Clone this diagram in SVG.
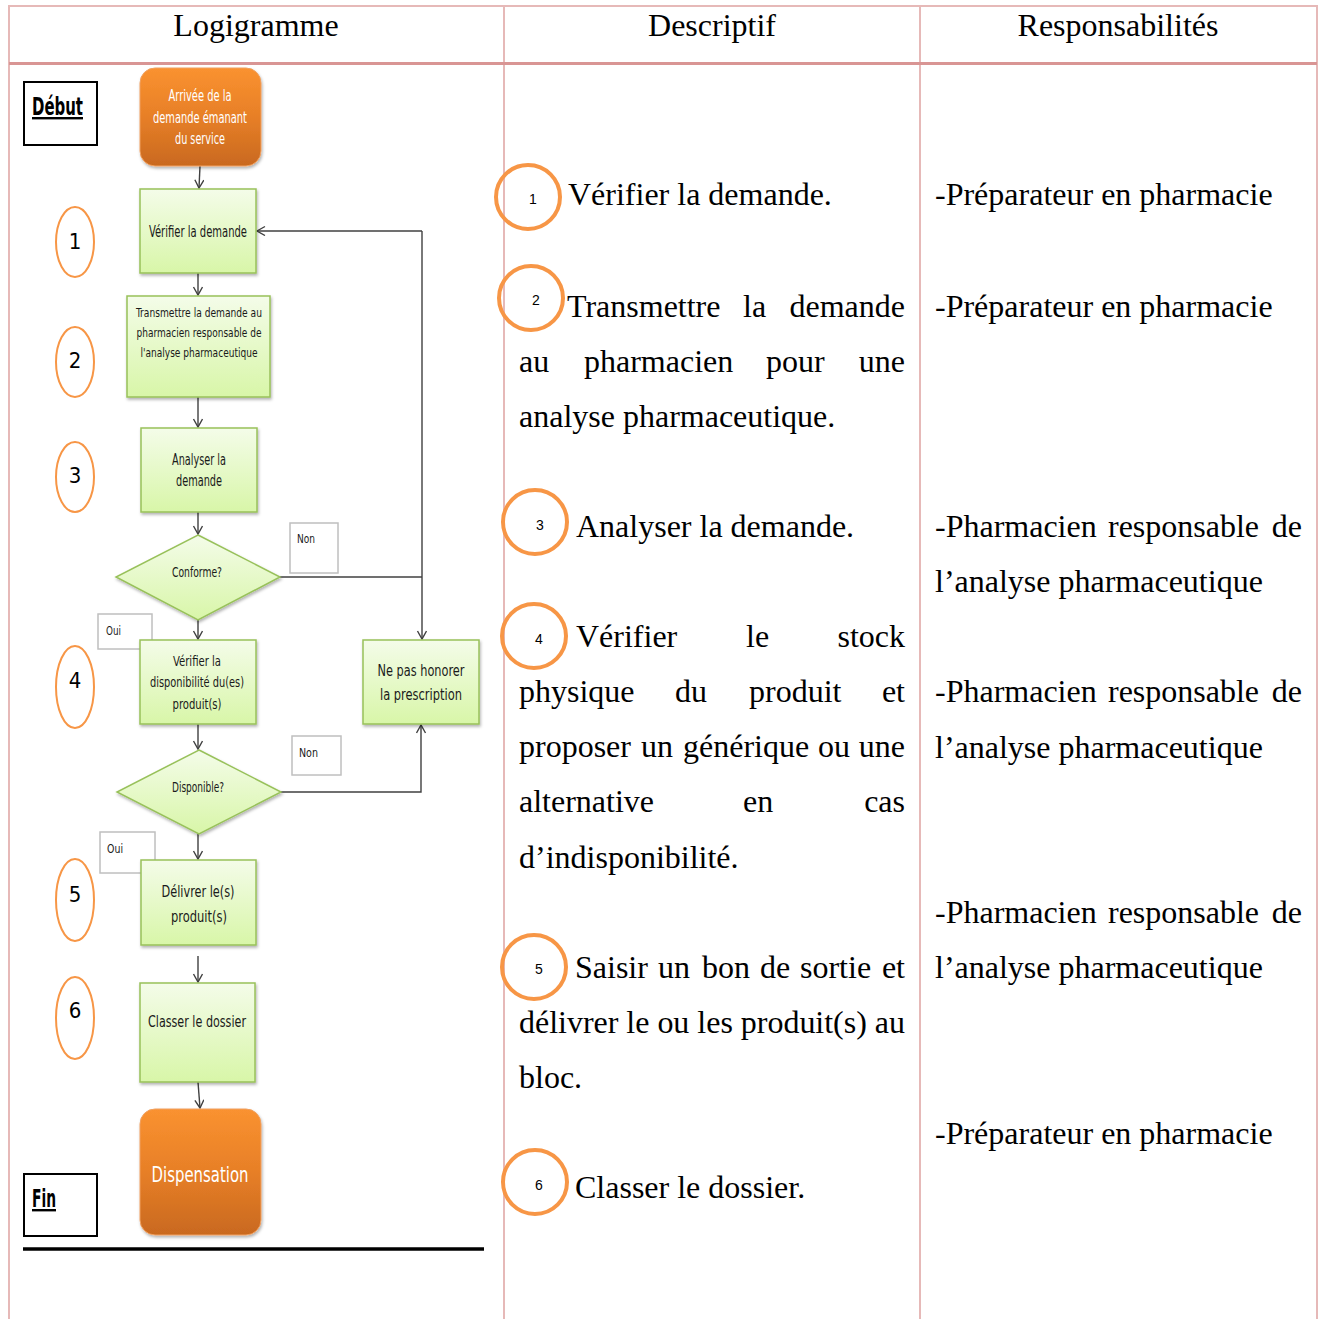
<svg xmlns="http://www.w3.org/2000/svg" width="1325" height="1319" viewBox="0 0 1325 1319">
  <defs>
    <linearGradient id="gOrange" x1="0" y1="0" x2="0" y2="1">
      <stop offset="0" stop-color="#fa9230"/>
      <stop offset="0.5" stop-color="#e77f27"/>
      <stop offset="1" stop-color="#c9691f"/>
    </linearGradient>
    <linearGradient id="gGreen" x1="0" y1="0" x2="0" y2="1">
      <stop offset="0" stop-color="#f4fce9"/>
      <stop offset="1" stop-color="#d8f6a8"/>
    </linearGradient>
    <filter id="shadow" x="-10%" y="-10%" width="130%" height="130%">
      <feDropShadow dx="1" dy="2" stdDeviation="1.5" flood-color="#000" flood-opacity="0.3"/>
    </filter>
    <marker id="arrow" markerUnits="userSpaceOnUse" markerWidth="12" markerHeight="12" refX="9" refY="5" orient="auto">
      <path d="M1,0.5 L9,5 L1,9.5" fill="none" stroke="#404040" stroke-width="1.4"/>
    </marker>
  </defs>
  <style>
    .grid { stroke: #e6b9b8; stroke-width: 2; fill: none; }
    .head { font-family: "Liberation Serif", "Times New Roman", serif; font-size: 32px; fill: #000; text-anchor: middle; }
    .body { font-family: "Liberation Serif", "Times New Roman", serif; font-size: 32px; fill: #000; }
    .end { text-anchor: end; }
    .fc { font-family: "Liberation Sans Narrow", "DejaVu Sans Condensed", "Liberation Sans", sans-serif; fill: #1a1a1a; text-anchor: middle; }
    .fcw { font-family: "Liberation Sans Narrow", "DejaVu Sans Condensed", "Liberation Sans", sans-serif; fill: #ffffff; text-anchor: middle; }
    .lbl { font-family: "Liberation Sans Narrow", "DejaVu Sans Condensed", "Liberation Sans", sans-serif; font-size: 13px; fill: #1a1a1a; }
    .step { fill: url(#gGreen); stroke: #98c15a; stroke-width: 1.5; filter: url(#shadow); }
    .term { fill: url(#gOrange); stroke: #f0a060; stroke-width: 1; filter: url(#shadow); }
    .tag { fill: #fff; stroke: #bfbfbf; stroke-width: 1.5; }
    .num { fill: none; stroke: #f79646; stroke-width: 2; }
    .ring { fill: none; stroke: #f79646; stroke-width: 4; }
    .numtxt { font-family: "Liberation Sans Narrow", "DejaVu Sans Condensed", "Liberation Sans", sans-serif; font-size: 22px; fill: #000; text-anchor: middle; }
    .ringtxt { font-family: "Liberation Sans", "Open Sans", sans-serif; font-size: 14px; fill: #000; text-anchor: middle; }
    .mark { fill: #fff; stroke: #000; stroke-width: 2; }
    .marktxt { font-family: "Liberation Sans Narrow", "DejaVu Sans Condensed", "Liberation Sans", sans-serif; font-size: 24px; font-weight: bold; text-decoration: underline; fill: #000; }
    .conn { fill: none; stroke: #404040; stroke-width: 1.4; }
  </style>

  <rect width="1325" height="1319" fill="#ffffff"/>

  <!-- table grid -->
  <g id="table">
    <path class="grid" d="M9,1319 V6 H1317 V1319"/>
    <path class="grid" d="M504,6 V1319 M920,6 V1319"/>
    <line x1="9" y1="63.5" x2="1317" y2="63.5" stroke="#d99594" stroke-width="3"/>
    <text class="head" x="256" y="36">Logigramme</text>
    <text class="head" x="712" y="36">Descriptif</text>
    <text class="head" x="1118" y="36">Responsabilités</text>
  </g>

  <!-- connectors -->
  <g id="connectors">
    <path class="conn" d="M200,166 L199,188" marker-end="url(#arrow)"/>
    <path class="conn" d="M198,273 V295" marker-end="url(#arrow)"/>
    <path class="conn" d="M198,397 V427" marker-end="url(#arrow)"/>
    <path class="conn" d="M198,512 V534" marker-end="url(#arrow)"/>
    <path class="conn" d="M198,620 V639" marker-end="url(#arrow)"/>
    <path class="conn" d="M198,724 V749" marker-end="url(#arrow)"/>
    <path class="conn" d="M198,834 V859" marker-end="url(#arrow)"/>
    <path class="conn" d="M198,956 V982" marker-end="url(#arrow)"/>
    <path class="conn" d="M198,1082 L200,1108" marker-end="url(#arrow)"/>
    <path class="conn" d="M280,577 H422" stroke="#1a1a1a"/>
    <path class="conn" d="M422,231 V639" marker-end="url(#arrow)"/>
    <path class="conn" d="M422,231 H257" marker-end="url(#arrow)"/>
    <path class="conn" d="M281,792 H421 V725" marker-end="url(#arrow)"/>
  </g>

  <!-- start / end markers -->
  <g id="debut">
    <rect class="mark" x="24" y="82" width="73" height="63"/>
    <text class="marktxt" x="32" y="115" textLength="51" lengthAdjust="spacingAndGlyphs">Début</text>
  </g>
  <g id="fin">
    <rect class="mark" x="24" y="1174" width="73" height="62"/>
    <text class="marktxt" x="32" y="1207" textLength="24" lengthAdjust="spacingAndGlyphs">Fin</text>
  </g>
  <line x1="23" y1="1249" x2="484" y2="1249" stroke="#000" stroke-width="3.5"/>

  <!-- step numbers -->
  <g id="n1"><ellipse class="num" cx="75" cy="242" rx="19" ry="35"/><text class="numtxt" x="75" y="249">1</text></g>
  <g id="n2"><ellipse class="num" cx="75" cy="362" rx="19" ry="35"/><text class="numtxt" x="75" y="368">2</text></g>
  <g id="n3"><ellipse class="num" cx="75" cy="477" rx="19" ry="35"/><text class="numtxt" x="75" y="483">3</text></g>
  <g id="n4"><ellipse class="num" cx="75" cy="687" rx="19" ry="41"/><text class="numtxt" x="75" y="688">4</text></g>
  <g id="n5"><ellipse class="num" cx="75" cy="900" rx="19" ry="41"/><text class="numtxt" x="75" y="902">5</text></g>
  <g id="n6"><ellipse class="num" cx="75" cy="1018" rx="19" ry="41"/><text class="numtxt" x="75" y="1018">6</text></g>

  <!-- flowchart nodes -->
  <g id="arrivee">
    <rect class="term" x="140" y="68" width="121" height="98" rx="15"/>
    <text class="fcw" font-size="15" x="200" y="101" textLength="63" lengthAdjust="spacingAndGlyphs">Arrivée de la</text>
    <text class="fcw" font-size="15" x="200" y="123" textLength="94" lengthAdjust="spacingAndGlyphs">demande émanant</text>
    <text class="fcw" font-size="15" x="200" y="144" textLength="50" lengthAdjust="spacingAndGlyphs">du service</text>
  </g>
  <g id="verifier">
    <rect class="step" x="140" y="189" width="116" height="84"/>
    <text class="fc" font-size="15" x="198" y="237" textLength="98" lengthAdjust="spacingAndGlyphs">Vérifier la demande</text>
  </g>
  <g id="transmettre">
    <rect class="step" x="127" y="296" width="143" height="101"/>
    <text class="fc" font-size="13" x="199" y="317" textLength="126" lengthAdjust="spacingAndGlyphs">Transmettre la demande au</text>
    <text class="fc" font-size="13" x="199" y="337" textLength="125" lengthAdjust="spacingAndGlyphs">pharmacien responsable de</text>
    <text class="fc" font-size="13" x="199" y="357" textLength="117" lengthAdjust="spacingAndGlyphs">l'analyse pharmaceutique</text>
  </g>
  <g id="analyser">
    <rect class="step" x="141" y="428" width="116" height="84"/>
    <text class="fc" font-size="15" x="199" y="465" textLength="54" lengthAdjust="spacingAndGlyphs">Analyser la</text>
    <text class="fc" font-size="15" x="199" y="486" textLength="46" lengthAdjust="spacingAndGlyphs">demande</text>
  </g>
  <g id="conforme">
    <polygon class="step" points="198,535 280,577 198,620 116,577"/>
    <text class="fc" font-size="14" x="197" y="577" textLength="50" lengthAdjust="spacingAndGlyphs">Conforme?</text>
  </g>
  <g id="non1">
    <rect class="tag" x="290" y="523" width="48" height="50"/>
    <text class="lbl" x="297" y="543" textLength="18" lengthAdjust="spacingAndGlyphs">Non</text>
  </g>
  <g id="oui1">
    <rect class="tag" x="98" y="614" width="54" height="35"/>
    <text class="lbl" x="106" y="635" textLength="15" lengthAdjust="spacingAndGlyphs">Oui</text>
  </g>
  <g id="disponibilite">
    <rect class="step" x="140" y="640" width="116" height="84"/>
    <text class="fc" font-size="14" x="197" y="666" textLength="48" lengthAdjust="spacingAndGlyphs">Vérifier la</text>
    <text class="fc" font-size="14" x="197" y="687" textLength="94" lengthAdjust="spacingAndGlyphs">disponibilité du(es)</text>
    <text class="fc" font-size="14" x="197" y="709" textLength="49" lengthAdjust="spacingAndGlyphs">produit(s)</text>
  </g>
  <g id="nepas">
    <rect class="step" x="363" y="640" width="116" height="84"/>
    <text class="fc" font-size="16" x="421" y="676" textLength="87" lengthAdjust="spacingAndGlyphs">Ne pas honorer</text>
    <text class="fc" font-size="16" x="421" y="700" textLength="82" lengthAdjust="spacingAndGlyphs">la prescription</text>
  </g>
  <g id="disponible">
    <polygon class="step" points="199,750 281,792 199,834 117,792"/>
    <text class="fc" font-size="14" x="198" y="792" textLength="52" lengthAdjust="spacingAndGlyphs">Disponible?</text>
  </g>
  <g id="non2">
    <rect class="tag" x="292" y="736" width="49" height="39"/>
    <text class="lbl" x="299" y="757" textLength="19" lengthAdjust="spacingAndGlyphs">Non</text>
  </g>
  <g id="oui2">
    <rect class="tag" x="100" y="832" width="55" height="41"/>
    <text class="lbl" x="107" y="853" textLength="16" lengthAdjust="spacingAndGlyphs">Oui</text>
  </g>
  <g id="delivrer">
    <rect class="step" x="141" y="860" width="115" height="85"/>
    <text class="fc" font-size="16" x="198" y="897" textLength="73" lengthAdjust="spacingAndGlyphs">Délivrer le(s)</text>
    <text class="fc" font-size="16" x="199" y="922" textLength="56" lengthAdjust="spacingAndGlyphs">produit(s)</text>
  </g>
  <g id="classer">
    <rect class="step" x="140" y="983" width="115" height="99"/>
    <text class="fc" font-size="15" x="197" y="1027" textLength="98" lengthAdjust="spacingAndGlyphs">Classer le dossier</text>
  </g>
  <g id="dispensation">
    <rect class="term" x="140" y="1109" width="121" height="126" rx="15"/>
    <text class="fcw" font-size="21" x="200" y="1182" textLength="97" lengthAdjust="spacingAndGlyphs">Dispensation</text>
  </g>

  <!-- description column -->
  <g id="descriptif">
    <g id="d1">
      <circle class="ring" cx="528" cy="197" r="32"/>
      <text class="ringtxt" x="533" y="204">1</text>
      <text class="body" x="568" y="205">Vérifier la demande.</text>
    </g>
    <g id="d2">
      <circle class="ring" cx="531" cy="298" r="32"/>
      <text class="ringtxt" x="536" y="305">2</text>
      <text class="body" y="317"><tspan x="567">Transmettre</tspan><tspan x="743">la</tspan><tspan class="end" x="905">demande</tspan></text>
      <text class="body" y="372"><tspan x="519">au</tspan><tspan x="584">pharmacien</tspan><tspan x="766">pour</tspan><tspan class="end" x="905">une</tspan></text>
      <text class="body" x="519" y="427">analyse pharmaceutique.</text>
    </g>
    <g id="d3">
      <circle class="ring" cx="535" cy="522" r="32"/>
      <text class="ringtxt" x="540" y="530">3</text>
      <text class="body" x="576" y="537">Analyser la demande.</text>
    </g>
    <g id="d4">
      <circle class="ring" cx="534" cy="636" r="32"/>
      <text class="ringtxt" x="539" y="644">4</text>
      <text class="body" y="647"><tspan x="576">Vérifier</tspan><tspan x="746">le</tspan><tspan class="end" x="905">stock</tspan></text>
      <text class="body" y="702"><tspan x="519">physique</tspan><tspan x="675">du</tspan><tspan x="749">produit</tspan><tspan class="end" x="905">et</tspan></text>
      <text class="body" y="757"><tspan x="519">proposer</tspan><tspan x="641">un</tspan><tspan x="683">générique</tspan><tspan x="818">ou</tspan><tspan class="end" x="905">une</tspan></text>
      <text class="body" y="812"><tspan x="519">alternative</tspan><tspan x="743">en</tspan><tspan class="end" x="905">cas</tspan></text>
      <text class="body" x="519" y="868">d’indisponibilité.</text>
    </g>
    <g id="d5">
      <circle class="ring" cx="534" cy="967" r="32"/>
      <text class="ringtxt" x="539" y="974">5</text>
      <text class="body" y="978"><tspan x="575">Saisir</tspan><tspan x="658">un</tspan><tspan x="702">bon</tspan><tspan x="760">de</tspan><tspan x="800">sortie</tspan><tspan class="end" x="905">et</tspan></text>
      <text class="body" x="519" y="1033" textLength="386" lengthAdjust="spacing">délivrer le ou les produit(s) au</text>
      <text class="body" x="519" y="1088">bloc.</text>
    </g>
    <g id="d6">
      <circle class="ring" cx="535" cy="1182" r="32"/>
      <text class="ringtxt" x="539" y="1190">6</text>
      <text class="body" x="575" y="1198">Classer le dossier.</text>
    </g>
  </g>

  <!-- responsibilities column -->
  <g id="responsabilites">
    <text class="body" x="935" y="205">-Préparateur en pharmacie</text>
    <text class="body" x="935" y="317">-Préparateur en pharmacie</text>
    <text class="body" y="537"><tspan x="935">-Pharmacien</tspan><tspan x="1108">responsable</tspan><tspan class="end" x="1302">de</tspan></text>
    <text class="body" x="935" y="592">l’analyse pharmaceutique</text>
    <text class="body" y="702"><tspan x="935">-Pharmacien</tspan><tspan x="1108">responsable</tspan><tspan class="end" x="1302">de</tspan></text>
    <text class="body" x="935" y="758">l’analyse pharmaceutique</text>
    <text class="body" y="923"><tspan x="935">-Pharmacien</tspan><tspan x="1108">responsable</tspan><tspan class="end" x="1302">de</tspan></text>
    <text class="body" x="935" y="978">l’analyse pharmaceutique</text>
    <text class="body" x="935" y="1144">-Préparateur en pharmacie</text>
  </g>
</svg>
